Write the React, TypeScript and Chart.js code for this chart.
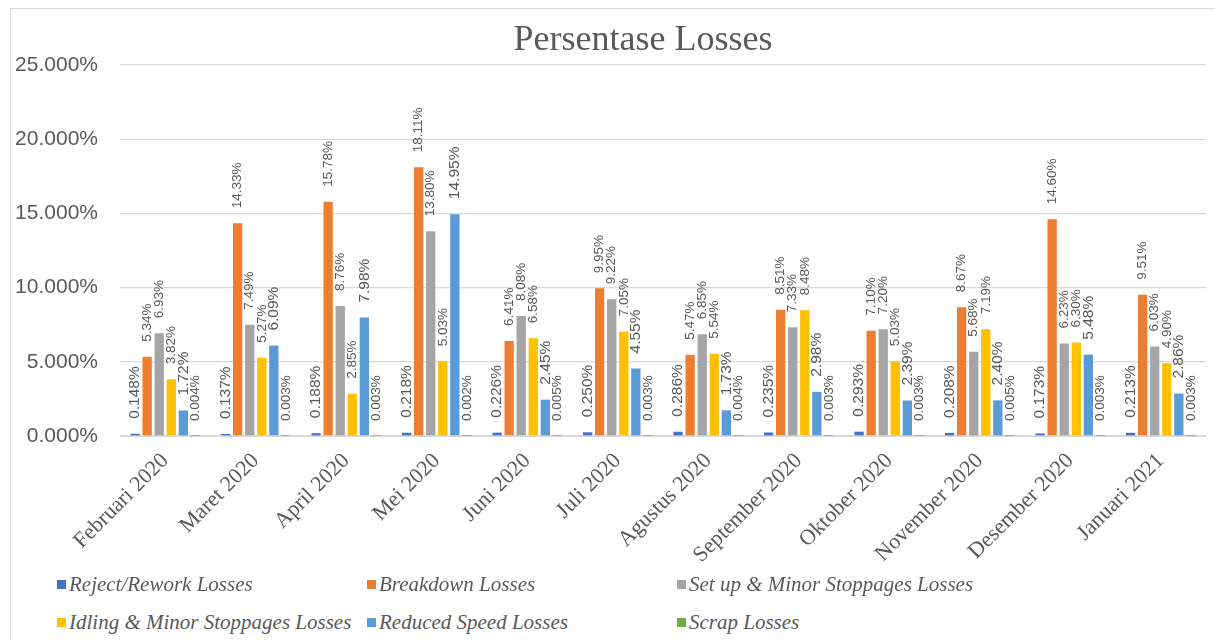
import React, { useEffect, useRef } from "react";
import { Chart, registerables } from "chart.js";

Chart.register(...registerables);

const categories = [
  "Februari 2020",
  "Maret 2020",
  "April 2020",
  "Mei 2020",
  "Juni 2020",
  "Juli 2020",
  "Agustus 2020",
  "September 2020",
  "Oktober 2020",
  "November 2020",
  "Desember 2020",
  "Januari 2021",
];

const rejectRework = [0.148, 0.137, 0.188, 0.218, 0.226, 0.25, 0.286, 0.235, 0.293, 0.208, 0.173, 0.213];
const breakdown = [5.34, 14.33, 15.78, 18.11, 6.41, 9.95, 5.47, 8.51, 7.1, 8.67, 14.6, 9.51];
const setupMinor = [6.93, 7.49, 8.76, 13.8, 8.08, 9.22, 6.85, 7.33, 7.2, 5.68, 6.23, 6.03];
const idlingMinor = [3.82, 5.27, 2.85, 5.03, 6.58, 7.05, 5.54, 8.48, 5.03, 7.19, 6.3, 4.9];
const reducedSpeed = [1.72, 6.09, 7.98, 14.95, 2.45, 4.55, 1.73, 2.98, 2.39, 2.4, 5.48, 2.86];
const scrap = [0.004, 0.003, 0.003, 0.002, 0.005, 0.003, 0.004, 0.003, 0.003, 0.005, 0.003, 0.003];

const yTicks = [0, 5, 10, 15, 20, 25];

const seriesNames = [
  "Reject/Rework Losses",
  "Breakdown Losses",
  "Set up & Minor Stoppages Losses",
  "Idling & Minor Stoppages Losses",
  "Reduced Speed Losses",
  "Scrap Losses",
];
const seriesColors = ["#4472C4", "#ED7D31", "#A5A5A5", "#FFC000", "#5B9BD5", "#70AD47"];
const seriesDecimals = [3, 2, 2, 2, 2, 3];
const seriesLabelSize = [15.5, 13.5, 13.5, 13.5, 15.5, 13.5];
const seriesData = [rejectRework, breakdown, setupMinor, idlingMinor, reducedSpeed, scrap];

const GRAY = "#595959";

const valueLabels = {
  id: "valueLabels",
  afterDatasetsDraw(chart: any) {
    const ctx = chart.ctx;
    chart.data.datasets.forEach((ds: any, i: number) => {
      const meta = chart.getDatasetMeta(i);
      meta.data.forEach((bar: any, j: number) => {
        const v = ds.data[j];
        const txt = v.toFixed(seriesDecimals[i]) + "%";
        ctx.save();
        ctx.translate(bar.x, bar.y - 15);
        ctx.rotate(-Math.PI / 2);
        ctx.font = `${seriesLabelSize[i]}px "Liberation Sans", Arial, sans-serif`;
        ctx.fillStyle = GRAY;
        ctx.textAlign = "left";
        ctx.textBaseline = "middle";
        ctx.fillText(txt, 0, 0);
        ctx.restore();
      });
    });
  },
};

function LossChart() {
  const ref = useRef<HTMLCanvasElement>(null);
  useEffect(() => {
    if (!ref.current) return;
    const chart = new Chart(ref.current, {
      type: "bar",
      data: {
        labels: categories,
        datasets: seriesData.map((d, i) => ({
          label: seriesNames[i],
          data: d,
          backgroundColor: seriesColors[i],
          borderWidth: 0,
          barPercentage: 0.77,
          categoryPercentage: 0.8,
        })),
      },
      options: {
        animation: false,
        responsive: false,
        maintainAspectRatio: false,
        layout: { padding: { top: 15, right: 5, left: 0, bottom: 0 } },
        plugins: {
          legend: { display: false },
          title: { display: false },
          tooltip: { enabled: false },
        },
        scales: {
          x: {
            grid: { display: false, drawTicks: false },
            border: { display: true, color: "#D9D9D9", width: 1 },
            ticks: {
              autoSkip: false,
              minRotation: 45,
              maxRotation: 45,
              padding: 12,
              color: GRAY,
              font: { family: '"Liberation Serif", "Times New Roman", serif', size: 22 },
            },
            afterFit(scale: any) {
              scale.height = 139;
            },
          },
          y: {
            min: 0,
            max: 25,
            afterBuildTicks(scale: any) {
              scale.ticks = yTicks.map((v) => ({ value: v }));
            },
            grid: { color: "#D9D9D9", lineWidth: 1.3, drawTicks: false },
            border: { display: false },
            ticks: {
              padding: 22,
              color: GRAY,
              font: { family: '"Liberation Sans", Arial, sans-serif', size: 21 },
              callback: (v: any) => Number(v).toFixed(3) + "%",
            },
            afterFit(scale: any) {
              scale.width = 109;
              scale.paddingTop = 0;
              scale.paddingBottom = 0;
            },
          },
        },
      },
      plugins: [valueLabels],
    });
    return () => chart.destroy();
  }, []);
  return (
    <canvas
      ref={ref}
      width={1200}
      height={525}
      style={{ position: "absolute", left: 0, top: 41, width: 1200, height: 525 }}
    />
  );
}

export default function App() {
  const legendCols = [46, 356, 666];
  const legendRows = [575, 613];
  return (
    <div
      style={{
        position: "relative",
        marginLeft: 2,
        width: 1207,
        height: 660,
        boxSizing: "border-box",
        border: "1px solid #D9D9D9",
        background: "#fff",
        overflow: "hidden",
      }}
    >
      <LossChart />
      <div
        style={{
          position: "absolute",
          left: 432,
          top: 11,
          width: 400,
          textAlign: "center",
          fontFamily: '"Liberation Serif", "Times New Roman", serif',
          fontSize: 36,
          lineHeight: "36px",
          color: GRAY,
          whiteSpace: "nowrap",
        }}
      >
        Persentase Losses
      </div>
      {seriesNames.map((name, i) => (
        <div
          key={name}
          style={{
            position: "absolute",
            left: legendCols[i % 3],
            top: legendRows[Math.floor(i / 3)] - 12,
            height: 24,
            display: "flex",
            alignItems: "center",
            whiteSpace: "nowrap",
          }}
        >
          <span
            style={{
              display: "inline-block",
              width: 9,
              height: 9,
              background: seriesColors[i],
              marginRight: 3,
            }}
          />
          <span
            style={{
              fontFamily: '"Liberation Serif", "Times New Roman", serif',
              fontStyle: "italic",
              fontSize: 21,
              color: GRAY,
            }}
          >
            {name}
          </span>
        </div>
      ))}
    </div>
  );
}
